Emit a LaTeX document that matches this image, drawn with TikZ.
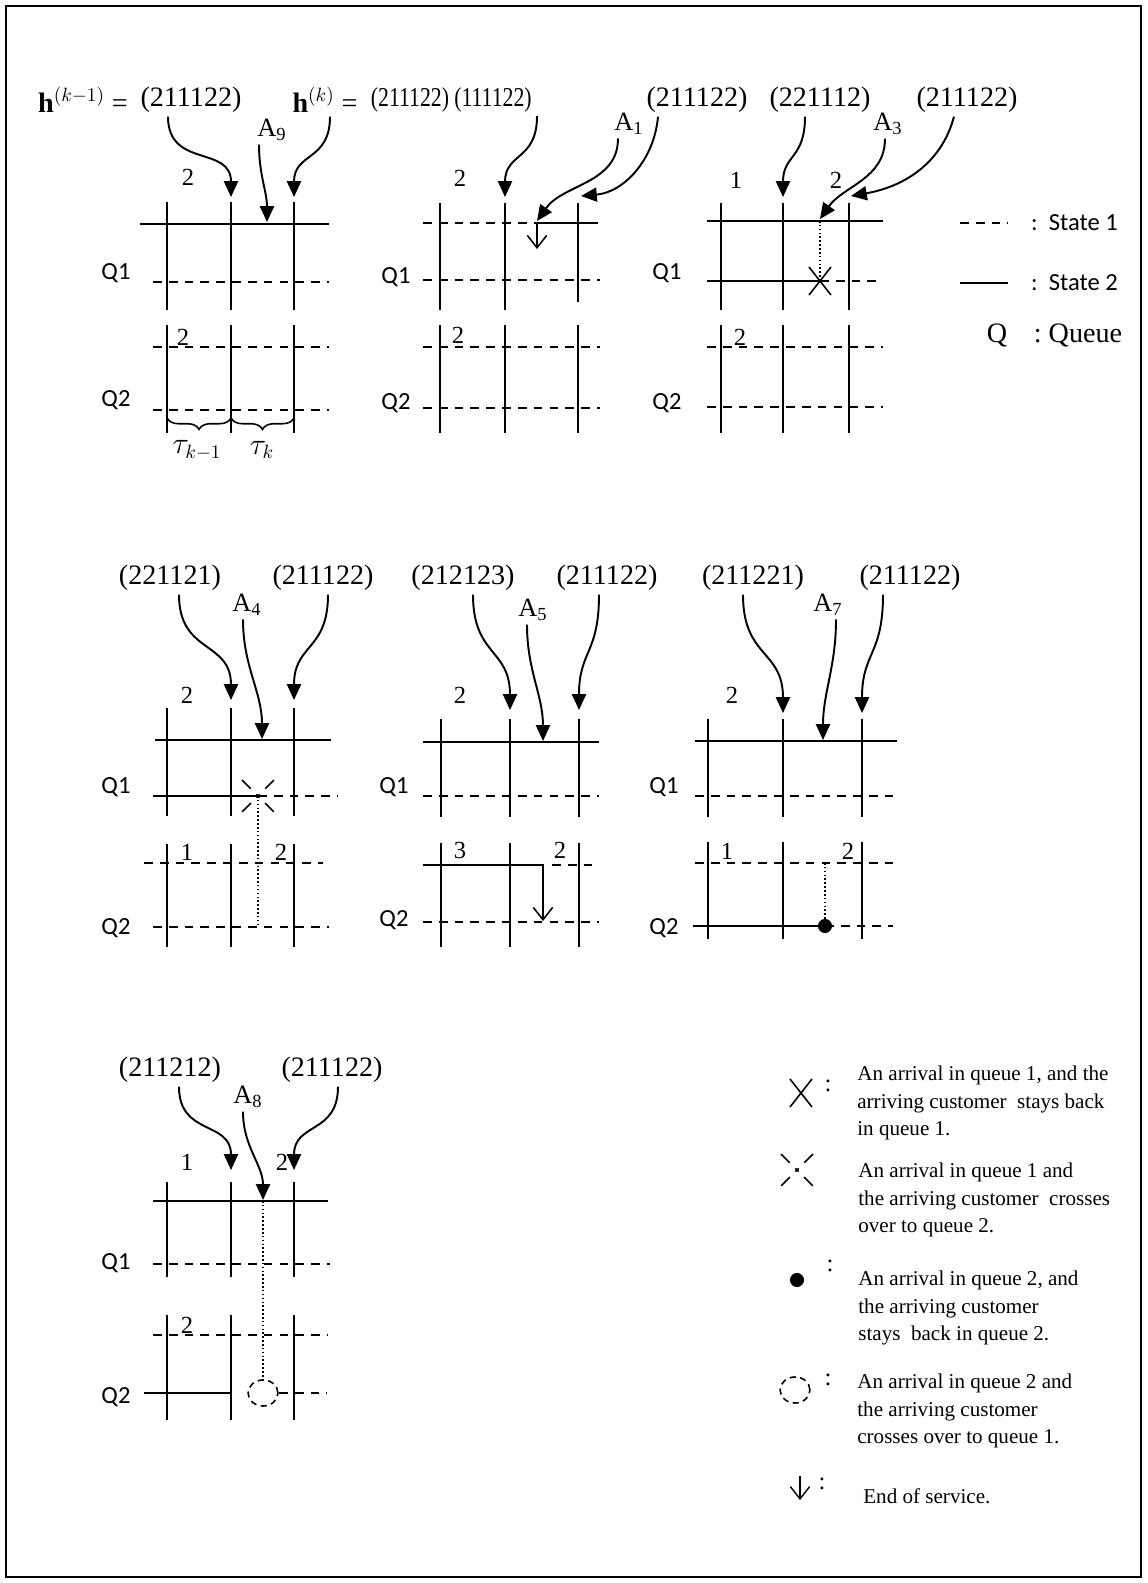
\documentclass[tikz,border=0pt]{standalone}
\usepackage{fontspec}
\setmainfont{Liberation Serif}
\newfontfamily\qfont{Carlito}
\usepackage{tikz}
\usetikzlibrary{arrows.meta,calc,decorations.pathreplacing}

\begin{document}
\begin{tikzpicture}[x=0.02cm,y=-0.02cm]

\tikzstyle{wall}=[line width=0.9pt]
\tikzstyle{st1}=[line width=0.9pt, dash pattern=on 5pt off 4pt]
\tikzstyle{st2}=[line width=0.9pt]
\tikzstyle{hop}=[line width=0.9pt, dash pattern=on 0.9pt off 1.3pt]
\tikzstyle{feed}=[line width=1.1pt, -{Triangle[length=9pt,width=8pt]}]
\tikzstyle{eos}=[line width=0.9pt, -{Straight Barb[length=7pt,width=11pt]}]
\tikzstyle{crossin}=[line width=0.9pt]
\tikzstyle{crossout}=[line width=0.9pt, dash pattern=on 7pt off 4.5pt on 2.6pt off 4.5pt on 7pt off 10pt]
\tikzstyle{ring}=[line width=0.9pt, dash pattern=on 3.5pt off 2.5pt]
\tikzstyle{tuple}=[font=\fontsize{16}{18}\selectfont, inner sep=2pt]
\tikzstyle{tuplesm}=[font=\fontsize{15.5}{17}\selectfont, inner sep=2pt]
\tikzstyle{cnt}=[font=\fontsize{14}{16}\selectfont, inner sep=1pt]
\tikzstyle{qlab}=[font=\qfont\fontsize{14}{16}\selectfont]
\tikzstyle{alab}=[font=\fontsize{15}{17}\selectfont, inner sep=2pt]
\tikzstyle{colon}=[font=\fontsize{14}{16}\selectfont, inner sep=0pt]
\tikzstyle{note}=[font=\fontsize{12}{15.5}\selectfont, align=left, anchor=west, inner sep=0pt]

\useasboundingbox (0,0) rectangle (1147,1583);
\draw[line width=1pt] (6,6) rectangle (1141,1577);

% Panel A9
\node[tuple] (hprev) at (83,100) {$\mathbf{h}^{(k-1)}$ =};
\node[tuple] (prev9) at (191,100) {(211122)};
\node[tuple] (hcur) at (325,100) {$\mathbf{h}^{(k)}$ =};
\node[tuplesm] (cur9) at (410,100) {\scalebox{0.8}[1]{(211122)}};
\node[alab] (a9) at (272,130) {A\textsubscript{9}};
\foreach \x in {167,231,294} \draw[wall] (\x,202) -- (\x,310) (\x,325) -- (\x,433);
\draw[st2] (140,224) -- (329,224);
\draw[st1] (153,282) -- (329,282);
\draw[st1] (153,347) -- (329,347);
\draw[st1] (153,410) -- (329,410);
\node[cnt] (n9a) at (188,177) {2};
\node[cnt] (n9b) at (183,337) {2};
\node[qlab] (q9a) at (116,273) {Q1};
\node[qlab] (q9b) at (116,400) {Q2};
\draw[line width=0.9pt, decorate, decoration={brace, mirror, amplitude=6.5pt}] (167,418) -- (231,418);
\draw[line width=0.9pt, decorate, decoration={brace, mirror, amplitude=6.5pt}] (231,418) -- (294,418);
\node[tuple] (tauprev) at (197,450) {$\tau_{k-1}$};
\node[tuple] (taucur) at (262,450) {$\tau_k$};
\coordinate (t9a) at (231,197);
\coordinate (t9b) at (267,222);
\coordinate (t9c) at (294,197);
\draw[feed] ($(prev9.south)+(-23,0)$) to[out=-90,in=90,looseness=1.3] (t9a);
\draw[feed] ($(a9.south)+(-13,0)$) to[out=-90,in=90] (t9b);
\draw[feed] ($(hcur.south)+(5,0)$) to[out=-90,in=90,looseness=1.3] (t9c);

% Panel A1
\node[tuplesm] (v1a) at (493,100) {\scalebox{0.8}[1]{(111122)}};
\node[alab] (a1) at (629,124) {A\textsubscript{1}};
\node[tuple] (v1b) at (697,100) {(211122)};
\foreach \x in {440,505} \draw[wall] (\x,203) -- (\x,310) (\x,325) -- (\x,433);
\draw[wall] (578,203) -- (578,302) (578,325) -- (578,433);
\draw[st1] (423,223) -- (537,223);
\draw[st2] (537,223) -- (598,223);
\draw[eos] (537,223) -- (537,249);
\draw[st1] (423,280) -- (600,280);
\draw[st1] (423,347) -- (600,347);
\draw[st1] (423,408) -- (600,408);
\node[cnt] (n1a) at (460,178) {2};
\node[cnt] (n1b) at (458,335) {2};
\node[qlab] (q1a) at (396,277) {Q1};
\node[qlab] (q1b) at (396,403) {Q2};
\coordinate (t1a) at (505,197);
\coordinate (t1b) at (537,221);
\coordinate (t1c) at (581,196);
\draw[feed] ($(v1a.south)+(44,0)$) to[out=-90,in=90,looseness=1.3] (t1a);
\draw[feed] ($(a1.south)+(-11,0)$) to[out=-90,in=55] (t1b);
\draw[feed] ($(v1b.south)+(-39,0)$) to[out=-95,in=5] (t1c);

% Panel A3
\node[tuple] (v3a) at (820,100) {(221112)};
\node[alab] (a3) at (888,124) {A\textsubscript{3}};
\node[tuple] (v3b) at (967,100) {(211122)};
\foreach \x in {721,783,849} \draw[wall] (\x,203) -- (\x,310) (\x,325) -- (\x,433);
\draw[st2] (707,221) -- (883,221);
\draw[st2] (707,281) -- (820,281);
\draw[st1] (820,281) -- (883,281);
\draw[hop] (820,221) -- (820,281);
\draw[crossin] (809,267) -- (831,295) (831,267) -- (809,295);
\draw[st1] (707,347) -- (883,347);
\draw[st1] (707,407) -- (883,407);
\node[cnt] (n3a) at (736,180) {1};
\node[cnt] (n3b) at (836,180) {2};
\node[cnt] (n3c) at (740,337) {2};
\node[qlab] (q3a) at (667,273) {Q1};
\node[qlab] (q3b) at (667,403) {Q2};
\coordinate (t3a) at (783,197);
\coordinate (t3b) at (820,219);
\coordinate (t3c) at (851,196);
\draw[feed] ($(v3a.south)+(-15,0)$) to[out=-90,in=90,looseness=1.3] (t3a);
\draw[feed] ($(a3.south)+(-3,0)$) to[out=-90,in=55] (t3b);
\draw[feed] ($(v3b.south)+(-13,0)$) to[out=-105,in=10] (t3c);

% Legend of states
\draw[st1] (960,223) -- (1008,223);
\node[qlab, anchor=west] (s1) at (1025,223) {:~~State 1};
\draw[st2] (960,283) -- (1008,283);
\node[qlab, anchor=west] (s2) at (1025,283) {:~~State 2};
\node[tuple] (qq) at (997,335) {Q};
\node[tuple, anchor=west] (qd) at (1030,335) {:~Queue};

% Panel A4
\node[tuple] (v4a) at (170,578) {(221121)};
\node[alab] (a4) at (247,605) {A\textsubscript{4}};
\node[tuple] (v4b) at (323,578) {(211122)};
\foreach \x in {167,231,294} \draw[wall] (\x,708) -- (\x,816) (\x,844) -- (\x,947);
\draw[st2] (155,740) -- (331,740);
\draw[st2] (153,796) -- (258,796);
\draw[st1] (258,796) -- (338,796);
\draw[crossout] (242,780) -- (274,812) (274,780) -- (242,812);
\draw[hop] (258,796) -- (258,927);
\draw[st1] (144,863) -- (323,863);
\draw[st1] (153,927) -- (329,927);
\node[cnt] (n4a) at (187,695) {2};
\node[cnt] (n4b) at (187,852) {1};
\node[cnt] (n4c) at (281,852) {2};
\node[qlab] (q4a) at (116,787) {Q1};
\node[qlab] (q4b) at (116,928) {Q2};
\coordinate (t4a) at (231,700);
\coordinate (t4b) at (262,739);
\coordinate (t4c) at (294,700);
\draw[feed] ($(v4a.south)+(9,0)$) to[out=-90,in=90,looseness=1.3] (t4a);
\draw[feed] ($(a4.south)+(-4,0)$) to[out=-90,in=90] (t4b);
\draw[feed] ($(v4b.south)+(5,0)$) to[out=-90,in=90,looseness=1.3] (t4c);

% Panel A5
\node[tuple] (v5a) at (463,578) {(212123)};
\node[alab] (a5) at (533,610) {A\textsubscript{5}};
\node[tuple] (v5b) at (607,578) {(211122)};
\foreach \x in {441,510,579} \draw[wall] (\x,719) -- (\x,817) (\x,843) -- (\x,947);
\draw[st2] (423,742) -- (599,742);
\draw[st1] (423,796) -- (599,796);
\draw[st2, eos] (423,865) -- (543,865) -- (543,921);
\draw[st1] (552,865) -- (599,865);
\draw[st1] (423,922) -- (599,922);
\node[cnt] (n5a) at (460,695) {2};
\node[cnt] (n5b) at (460,850) {3};
\node[cnt] (n5c) at (560,850) {2};
\node[qlab] (q5a) at (394,787) {Q1};
\node[qlab] (q5b) at (394,920) {Q2};
\coordinate (t5a) at (510,710);
\coordinate (t5b) at (543,741);
\coordinate (t5c) at (579,710);
\draw[feed] ($(v5a.south)+(10,0)$) to[out=-90,in=90,looseness=1.3] (t5a);
\draw[feed] ($(a5.south)+(-6,0)$) to[out=-90,in=90] (t5b);
\draw[feed] ($(v5b.south)+(-8,0)$) to[out=-90,in=90,looseness=1.3] (t5c);

% Panel A7
\node[tuple] (v7a) at (753,578) {(211221)};
\node[alab] (a7) at (828,605) {A\textsubscript{7}};
\node[tuple] (v7b) at (910,578) {(211122)};
\foreach \x in {708,783,862} \draw[wall] (\x,719) -- (\x,817) (\x,842) -- (\x,939);
\draw[st2] (695,741) -- (897,741);
\draw[st1] (695,796) -- (893,796);
\draw[st1] (695,863) -- (893,863);
\draw[st2] (693,926) -- (825,926);
\draw[st1] (825,926) -- (893,926);
\draw[hop] (825,863) -- (825,926);
\fill (825,926) circle [radius=4pt];
\node[cnt] (n7a) at (732,695) {2};
\node[cnt] (n7b) at (727,851) {1};
\node[cnt] (n7c) at (848,851) {2};
\node[qlab] (q7a) at (664,787) {Q1};
\node[qlab] (q7b) at (664,928) {Q2};
\coordinate (t7a) at (783,713);
\coordinate (t7b) at (823,740);
\coordinate (t7c) at (862,713);
\draw[feed] ($(v7a.south)+(-10,0)$) to[out=-90,in=90,looseness=1.3] (t7a);
\draw[feed] ($(a7.south)+(8,0)$) to[out=-90,in=90] (t7b);
\draw[feed] ($(v7b.south)+(-27,0)$) to[out=-90,in=90,looseness=1.3] (t7c);

% Panel A8
\node[tuple] (v8a) at (170,1070) {(211212)};
\node[alab] (a8) at (248,1097) {A\textsubscript{8}};
\node[tuple] (v8b) at (332,1070) {(211122)};
\foreach \x in {167,231,294} \draw[wall] (\x,1182) -- (\x,1277) (\x,1315) -- (\x,1420);
\draw[st2] (153,1201) -- (328,1201);
\draw[st1] (153,1264) -- (330,1264);
\draw[st1] (153,1335) -- (328,1335);
\draw[st2] (144,1393) -- (232,1393);
\draw[ring] (263,1393) ellipse [x radius=8.5pt, y radius=7.4pt];
\draw[st1] (279,1393) -- (327,1393);
\draw[hop] (263,1201) -- (263,1380);
\node[cnt] (n8a) at (187,1162) {1};
\node[cnt] (n8b) at (282,1162) {2};
\node[cnt] (n8c) at (187,1325) {2};
\node[qlab] (q8a) at (116,1263) {Q1};
\node[qlab] (q8b) at (116,1397) {Q2};
\coordinate (t8a) at (231,1170);
\coordinate (t8b) at (263,1200);
\coordinate (t8c) at (294,1170);
\draw[feed] ($(v8a.south)+(9,0)$) to[out=-90,in=90,looseness=1.3] (t8a);
\draw[feed] ($(a8.south)+(-5,0)$) to[out=-90,in=90] (t8b);
\draw[feed] ($(v8b.south)+(6,0)$) to[out=-90,in=90,looseness=1.3] (t8c);

% Legend of events
\draw[crossin] (790,1079) -- (812,1107) (812,1079) -- (790,1107);
\node[colon] (c1) at (828,1086) {:};
\node[note] (d1) at (857,1103) {An arrival in queue 1, and the\\arriving customer\ \ stays back\\in queue 1.};
\draw[crossout] (781,1154) -- (813,1186) (813,1154) -- (781,1186);
\node[note] (d2) at (858,1200) {An arrival in queue 1 and\\the arriving customer\ \ crosses\\over to queue 2.};
\fill (797,1280) circle [radius=4pt];
\node[colon] (c3) at (830,1266) {:};
\node[note] (d3) at (858,1308) {An arrival in queue 2, and\\the arriving customer\\stays\ \ back in queue 2.};
\draw[ring] (795,1390) ellipse [x radius=8.5pt, y radius=7.4pt];
\node[colon] (c4) at (828,1380) {:};
\node[note] (d4) at (857,1411) {An arrival in queue 2 and\\the arriving customer\\crosses over to queue 1.};
\draw[eos, line width=0.8pt] (800,1476) -- (800,1500);
\node[colon] (c5) at (822,1484) {:};
\node[note] (d5) at (863,1496) {End of service.};

\end{tikzpicture}
\end{document}
